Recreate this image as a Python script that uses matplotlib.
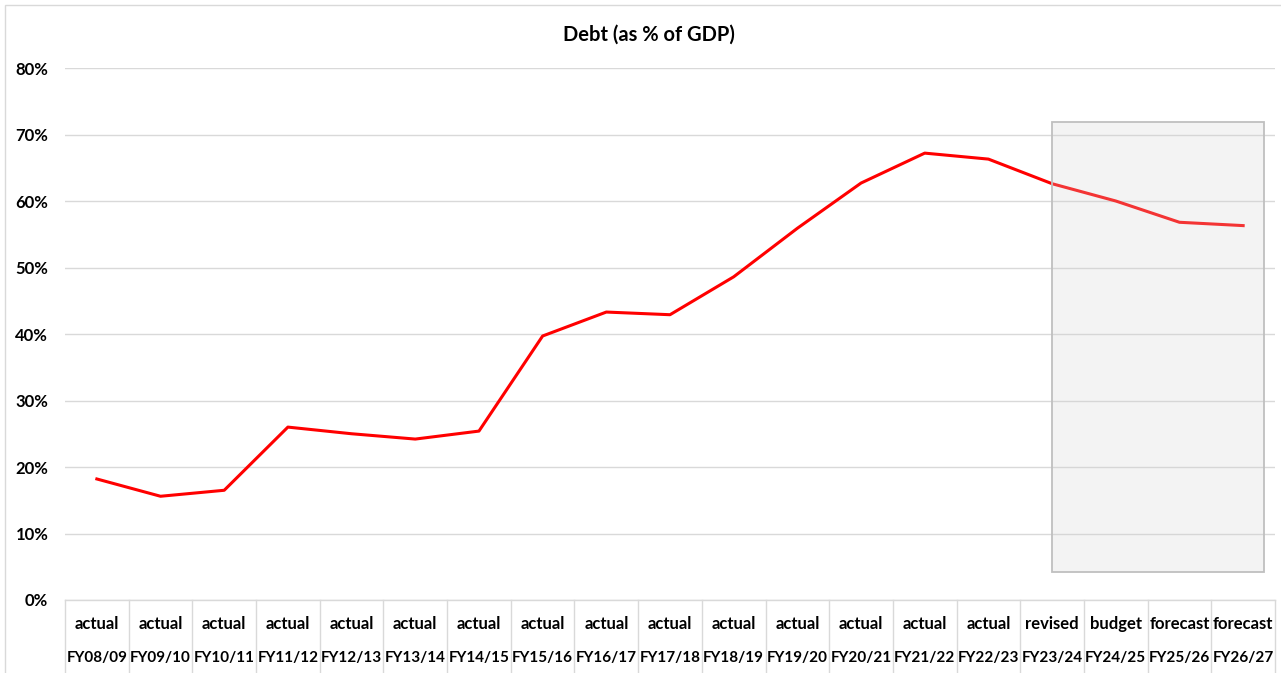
import matplotlib
matplotlib.use("Agg")
import matplotlib.pyplot as plt
from matplotlib.patches import Rectangle
from matplotlib.lines import Line2D
import matplotlib.transforms as mtransforms

# ---- data ----
periods = ["FY08/09", "FY09/10", "FY10/11", "FY11/12", "FY12/13", "FY13/14", "FY14/15",
           "FY15/16", "FY16/17", "FY17/18", "FY18/19", "FY19/20", "FY20/21", "FY21/22",
           "FY22/23", "FY23/24", "FY24/25", "FY25/26", "FY26/27"]
status = ["actual"] * 15 + ["revised", "budget", "forecast", "forecast"]
debt_pct = [18.2, 15.6, 16.5, 26.0, 25.0, 24.2, 25.4, 39.7, 43.3, 42.9, 48.6, 55.9,
            62.7, 67.2, 66.3, 62.6, 60.0, 56.8, 56.3]
yticks = [0, 10, 20, 30, 40, 50, 60, 70, 80]
title = "Debt (as % of GDP)"

plt.rcParams['font.family'] = ['Lato', 'DejaVu Sans']

W, H = 1281, 673
fig = plt.figure(figsize=(W / 100, H / 100), dpi=100)

# axes geometry in pixels
x0, x1 = 65, 1275
y_top, y_bot = 68, 600
ax = fig.add_axes([x0 / W, 1 - y_bot / H, (x1 - x0) / W, (y_bot - y_top) / H])

x = list(range(len(periods)))
ax.plot(x, debt_pct, color="#ff0000", lw=2.2, zorder=3)

ax.set_xlim(-0.5, len(periods) - 0.5)
ax.set_ylim(0, 80)
ax.set_yticks(yticks)
ax.set_yticklabels([f"{v}%" for v in yticks], fontsize=12, fontweight="bold")
ax.tick_params(axis="y", length=0, pad=12)
ax.set_xticks([])
ax.grid(axis="y", color="#d9d9d9", lw=1.0, zorder=0)
for s in ["left", "right", "top"]:
    ax.spines[s].set_visible(False)
ax.spines["bottom"].set_color("#d9d9d9")
ax.spines["bottom"].set_linewidth(1.0)

# highlighted forecast box
box_start = status.index("revised")
ax.add_patch(Rectangle((box_start, 4.2), 3.33, 67.7, facecolor="#d0d0d0", alpha=0.25,
                       edgecolor="none", zorder=4))
ax.add_patch(Rectangle((box_start, 4.2), 3.33, 67.7, facecolor="none",
                       edgecolor="#bfbfbf", lw=1.3, zorder=5))

# category table below axis
trans = mtransforms.blended_transform_factory(ax.transData, ax.transAxes)
ax_h = y_bot - y_top
row1 = -(624 - y_bot) / ax_h
row2 = -(658 - y_bot) / ax_h
bottom = -(H - y_bot + 2) / ax_h
for i, (p, s) in enumerate(zip(periods, status)):
    ax.text(i, row1, s, transform=trans, ha="center", va="center", fontsize=12,
            fontweight="bold", clip_on=False)
    ax.text(i, row2, p, transform=trans, ha="center", va="center", fontsize=11,
            fontweight="bold", clip_on=False)
for k in range(len(periods) + 1):
    ax.add_line(Line2D([k - 0.5, k - 0.5], [0, bottom], transform=trans,
                       color="#d9d9d9", lw=1.0, clip_on=False))

fig.text(649 / W, 1 - 35 / H, title, ha="center", va="center", fontsize=14.5,
         fontweight="bold")

# chart border
fig.patches.append(Rectangle((5 / W, -0.1), 1.2, 1 - 5 / H + 0.1, transform=fig.transFigure,
                             facecolor="none", edgecolor="#d9d9d9", lw=1.0))

fig.savefig("out.png", dpi=100)
